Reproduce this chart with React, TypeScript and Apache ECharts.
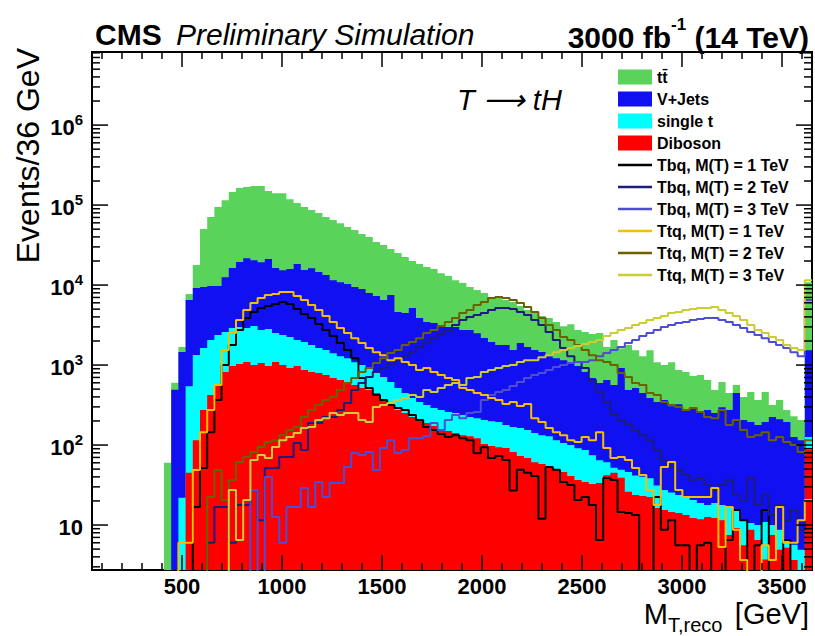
import React, { useEffect, useRef } from "react";
import * as echarts from "echarts";

const BIN_LOW = 50;
const BIN_WIDTH = 36;
const X_MIN = 50;
const X_MAX = 3650;
const Y_MIN = 2.74;
const Y_MAX = 8.2e6;

const xLabelValues = [500, 1000, 1500, 2000, 2500, 3000, 3500];
const yLabelValues = [10, 100, 1000, 10000, 100000, 1000000];

// backgrounds (events per 36 GeV bin, bins from 50 GeV)
const ttbar = [
  0, 0, 0, 0, 0, 0, 0, 0, 0, 0,
  60, 110, 230, 1230, 8600, 40700, 61100, 84700, 102400, 129100,
  143600, 146300, 152500, 153600, 128600, 124500, 125400, 102400, 87600, 79000,
  70300, 64900, 57500, 53400, 48600, 42800, 39300, 34500, 31900, 27200,
  25100, 20700, 20500, 17900, 14800, 14400, 13400, 12500, 10900, 9950,
  8520, 7850, 6700, 6150, 5770, 5140, 5090, 4710, 4590, 3580,
  3190, 3060, 2650, 2580, 2230, 1920, 2160, 1770, 1770, 1750,
  1920, 1030, 1490, 710, 1290, 1020, 845, 1150, 741, 635,
  779, 541, 544, 439, 491, 375, 236, 315, 173, 115,
  193, 266, 187, 266, 92, 154, 80, 104, 90, 9320,
];
const vjets = [
  0, 0, 0, 0, 0, 0, 0, 0, 0, 0,
  0, 490, 1430, 5940, 7840, 7810, 7670, 7350, 9970, 13400,
  16400, 18800, 17400, 16600, 18300, 13800, 13000, 13600, 16300, 13500,
  14500, 12900, 11800, 10100, 9570, 9070, 8350, 7910, 7020, 6470,
  5780, 6890, 4080, 4020, 4770, 3530, 3130, 3060, 2890, 2730,
  2730, 2500, 2520, 2290, 1970, 1740, 1590, 1600, 1370, 1720,
  1530, 1400, 1320, 1160, 1100, 1040, 986, 880, 731, 612,
  530, 588, 510, 868, 441, 474, 407, 348, 313, 338,
  281, 301, 251, 270, 240, 256, 232, 280, 257, 432,
  194, 183, 168, 183, 214, 202, 187, 120, 110, 1410,
];
const singleT = [
  0, 0, 0, 0, 0, 0, 0, 0, 0, 0,
  0, 0, 22, 500, 1220, 1360, 1630, 1810, 1770, 1930,
  1960, 1810, 2070, 1680, 1850, 1420, 1370, 1320, 1080, 1070,
  962, 837, 790, 721, 643, 605, 524, 484, 430, 371,
  343, 297, 242, 196, 163, 140, 128, 117, 116, 109,
  110, 104, 95, 95, 102, 102, 100, 86, 86, 90,
  85, 80, 75, 77, 66, 60, 59, 55, 52, 42,
  31, 19, 7, 10, 20, 18, 17, 16, 15, 12,
  11, 9.6, 9.7, 8.3, 7.1, 5.2, 6.7, 6.3, 9.3, 6.2,
  5.9, 1.9, 3.5, 7.2, 2.5, 3.8, 1.3, 2.0, 4.9, 39,
];
const diboson = [
  0, 0, 0, 0, 0, 0, 0, 0, 0, 0,
  0, 0, 0, 45, 115, 274, 422, 562, 818, 972,
  1030, 1090, 1000, 1060, 972, 1090, 1000, 917, 972, 866,
  818, 794, 750, 687, 649, 613, 562, 516, 487, 447,
  365, 316, 274, 251, 224, 205, 188, 173, 158, 150,
  141, 133, 129, 122, 103, 97, 94, 92, 82, 73,
  69, 61, 58, 52, 49, 46, 41, 36.5, 34.5, 32.5,
  33.5, 42, 45, 39, 26, 23.7, 23, 22.4, 16.3, 15.4,
  14.5, 14.1, 13.3, 12.2, 11.8, 12.6, 12.2, 11.5, 7.5, 9.2,
  5.6, 8.7, 6.5, 3.7, 7.5, 4.9, 5.2, 3.65, 0, 87,
];

// signals
const tbq1 = [
  0, 0, 0, 0, 0, 0, 0, 0, 0, 0,
  0, 0, 0, 0, 16.8, 51.6, 145, 365, 1000, 1780,
  2740, 3870, 4600, 5160, 5460, 5780, 6130, 5780, 5010, 4340,
  3870, 3250, 2740, 2300, 1890, 1540, 1220, 687, 516, 422,
  365, 316, 290, 274, 237, 205, 168, 154, 137, 126,
  133, 122, 115, 79, 94, 69, 73, 65, 27, 49,
  45, 41, 12, 53, 49, 34.5, 31.6, 20.5, 22.4, 17.8,
  6.5, 38.7, 36.5, 14.5, 14.1, 13.3, 0, 0, 22.4, 8.7,
  11.5, 5.6, 5.6, 0, 5.6, 6.0, 0, 0, 6.5, 15.4,
  11.5, 0, 5.6, 15.4, 0, 0, 6.5, 0, 0, 0,
];
const tbq2 = [
  0, 0, 0, 0, 0, 0, 0, 0, 0, 0,
  0, 0, 0, 0, 0, 0, 6.0, 16.8, 16.8, 6.0,
  17.8, 17.8, 27.4, 11.5, 51.6, 51.6, 70.8, 70.8, 106, 86.6,
  188, 188, 224, 224, 274, 335, 487, 595, 708, 818,
  917, 1030, 1150, 1290, 1450, 1680, 1890, 2170, 2440, 2740,
  3160, 3650, 3990, 4220, 4470, 4870, 5160, 5160, 5010, 4600,
  4220, 3650, 3160, 2590, 2050, 1630, 1290, 1090, 917, 649,
  460, 345, 244, 205, 183, 154, 133, 115, 86.6, 64.9,
  54.6, 48.7, 42.2, 36.5, 38.7, 31.6, 27.4, 31.6, 36.5, 23.7,
  20.5, 38.7, 17.8, 23.7, 13.3, 17.8, 11.5, 15.4, 8.7, 20.5,
];
const tbq3 = [
  0, 0, 0, 0, 0, 0, 0, 0, 0, 0,
  0, 0, 0, 0, 0, 0, 0, 0, 0, 0,
  0, 0, 27.4, 0, 39.8, 12.6, 6.0, 16.8, 16.8, 29,
  16.8, 34.5, 22.4, 33.5, 33.5, 53, 79.4, 75, 81.8, 48.7,
  91.7, 115, 79.4, 86.6, 122, 122, 129, 188, 154, 205,
  237, 217, 251, 259, 365, 422, 460, 487, 546, 613,
  687, 750, 794, 866, 944, 1000, 1060, 1090, 1090, 1150,
  1290, 1410, 1540, 1680, 1890, 2050, 2300, 2510, 2740, 2980,
  3160, 3350, 3450, 3650, 3760, 3870, 3870, 3650, 3450, 3160,
  2900, 2590, 2370, 2170, 1940, 1780, 1630, 1450, 1290, 6490,
];
const ttq1 = [
  0, 0, 0, 0, 0, 0, 0, 0, 0, 0,
  0, 0, 6.0, 6.0, 48.7, 145, 274, 562, 1540, 2510,
  3650, 4870, 5950, 6870, 7500, 7720, 8180, 8180, 7290, 6490,
  5620, 4870, 4100, 3450, 2900, 2510, 2170, 1890, 1630, 1450,
  1330, 1150, 1220, 1090, 1000, 866, 917, 818, 750, 687,
  649, 516, 487, 447, 422, 387, 365, 325, 345, 307,
  325, 217, 194, 163, 145, 133, 115, 109, 126, 115,
  145, 91.7, 68.7, 70.8, 64.9, 51.6, 42.2, 27.4, 17.8, 53,
  61.3, 27.4, 22.4, 22.4, 22.4, 22.4, 29, 5.3, 16.8, 8.7,
  3.65, 0, 0, 5.6, 3.65, 16.8, 6.0, 6.0, 11.5, 20.5,
];
const ttq2 = [
  0, 0, 0, 0, 0, 0, 0, 0, 0, 0,
  0, 0, 0, 0, 0, 0, 22.4, 48.7, 20.5, 36.5,
  61.3, 70.8, 81.8, 94.4, 109, 115, 133, 154, 168, 224,
  274, 316, 365, 398, 487, 595, 687, 818, 917, 1060,
  1220, 1410, 1540, 1780, 1940, 2170, 2510, 2740, 3070, 3450,
  3870, 4470, 4870, 5620, 6130, 6870, 7080, 6870, 6490, 5950,
  5300, 4600, 3870, 3160, 2740, 2240, 2050, 1780, 1540, 1330,
  1150, 1090, 1000, 794, 708, 595, 562, 447, 422, 345,
  316, 298, 274, 290, 259, 224, 217, 274, 178, 205,
  154, 126, 133, 145, 115, 126, 109, 100, 82, 115,
];
const ttq3 = [
  0, 0, 0, 0, 0, 0, 0, 0, 0, 0,
  0, 0, 0, 0, 0, 0, 0, 0, 0, 27.4,
  6.5, 20.5, 64.9, 75, 68.7, 94.4, 115, 126, 141, 163,
  168, 205, 217, 251, 237, 251, 251, 205, 194, 298,
  316, 335, 365, 387, 422, 398, 487, 460, 516, 562,
  595, 562, 687, 708, 818, 866, 917, 972, 1000, 1090,
  1150, 1150, 1250, 1330, 1450, 1540, 1630, 1730, 1830, 1940,
  2050, 2300, 2510, 2740, 2900, 3160, 3350, 3650, 3870, 4100,
  4470, 4600, 4870, 5010, 5160, 5160, 5300, 4870, 4470, 4100,
  3650, 3160, 2740, 2510, 2240, 2050, 1780, 1630, 1540, 11500,
];

const FONT = "'Liberation Sans', Arial, Helvetica, sans-serif";
const FLOOR = 0.01;
const LINE_ICON = "path://M0,0L34,0L34,2.6L0,2.6Z";

function histPoints(values: number[]): [number, number][] {
  const pts: [number, number][] = [];
  values.forEach((v, i) => pts.push([BIN_LOW + i * BIN_WIDTH, v > 0 ? v : FLOOR]));
  const last = values[values.length - 1];
  pts.push([BIN_LOW + values.length * BIN_WIDTH, last > 0 ? last : FLOOR]);
  return pts;
}

function sumArrays(...arrs: number[][]): number[] {
  return arrs[0].map((_, i) => arrs.reduce((s, a) => s + a[i], 0));
}

const fills = [
  { name: "tt\u0304", color: "#59d35a", values: sumArrays(ttbar, vjets, singleT, diboson) },
  { name: "V+Jets", color: "#1010f0", values: sumArrays(vjets, singleT, diboson) },
  { name: "single t", color: "#00ffff", values: sumArrays(singleT, diboson) },
  { name: "Diboson", color: "#ff0000", values: diboson },
];

const signals = [
  { name: "Tbq, M(T) = 1 TeV", color: "#000000", values: tbq1 },
  { name: "Tbq, M(T) = 2 TeV", color: "#1c1c7a", values: tbq2 },
  { name: "Tbq, M(T) = 3 TeV", color: "#4d4dd6", values: tbq3 },
  { name: "Ttq, M(T) = 1 TeV", color: "#f7be00", values: ttq1 },
  { name: "Ttq, M(T) = 2 TeV", color: "#6b6100", values: ttq2 },
  { name: "Ttq, M(T) = 3 TeV", color: "#cccc33", values: ttq3 },
];

export default function App() {
  const ref = useRef<HTMLDivElement>(null);

  useEffect(() => {
    document.body.style.margin = "0";
    if (!ref.current) return;
    const chart = echarts.init(ref.current, undefined, { renderer: "svg" });

    const xMinor: number[] = [];
    for (let v = 100; v <= 3600; v += 100) if (v % 500 !== 0) xMinor.push(v);
    const yMinor: number[] = [];
    for (let e = 0; e <= 6; e++)
      for (let m = 2; m <= 9; m++) {
        const v = m * Math.pow(10, e);
        if (v > Y_MIN && v < Y_MAX) yMinor.push(v);
      }

    const series: any[] = [];
    fills.forEach((f) => {
      series.push({
        name: f.name,
        type: "line",
        step: "end",
        data: histPoints(f.values),
        symbol: "none",
        color: f.color,
        lineStyle: { width: 0, color: f.color },
        areaStyle: { color: f.color, opacity: 1, origin: "start" },
        silent: true,
      });
    });
    signals.forEach((s) => {
      series.push({
        name: s.name,
        type: "line",
        step: "end",
        data: histPoints(s.values),
        symbol: "none",
        color: s.color,
        lineStyle: { width: 2, color: s.color },
        silent: true,
      });
    });
    series.push({
      type: "custom",
      data: [[X_MIN, Y_MIN]],
      silent: true,
      z: 20,
      clip: false,
      renderItem: (params: any, api: any) => {
        const cs = params.coordSys;
        const left = cs.x;
        const right = cs.x + cs.width;
        const top = cs.y;
        const bottom = cs.y + cs.height;
        const children: any[] = [];
        const add = (x1: number, y1: number, x2: number, y2: number) =>
          children.push({
            type: "line",
            shape: { x1, y1, x2, y2 },
            style: { stroke: "#000", lineWidth: 1.5 },
          });
        xLabelValues.forEach((v) => {
          const x = api.coord([v, Y_MIN])[0];
          add(x, bottom, x, bottom - 15);
          add(x, top, x, top + 15);
        });
        xMinor.forEach((v) => {
          const x = api.coord([v, Y_MIN])[0];
          add(x, bottom, x, bottom - 7);
          add(x, top, x, top + 7);
        });
        yLabelValues.forEach((v) => {
          const y = api.coord([X_MIN, v])[1];
          add(left, y, left + 16, y);
          add(right, y, right - 16, y);
        });
        yMinor.forEach((v) => {
          const y = api.coord([X_MIN, v])[1];
          add(left, y, left + 8, y);
          add(right, y, right - 8, y);
        });
        return { type: "group", children };
      },
    });

    const option: any = {
      animation: false,
      backgroundColor: "#fff",
      grid: {
        left: 92,
        top: 52,
        width: 720,
        height: 518,
        show: true,
        borderColor: "#000",
        borderWidth: 2,
        backgroundColor: "transparent",
      },
      xAxis: {
        type: "value",
        min: X_MIN,
        max: X_MAX,
        axisLine: { show: false },
        axisTick: { show: false },
        splitLine: { show: false },
        axisLabel: {
          customValues: xLabelValues,
          margin: 5,
          formatter: (v: number) => String(v),
          fontFamily: FONT,
          fontWeight: "bold",
          fontSize: 22,
          color: "#000",
        },
      },
      yAxis: {
        type: "log",
        min: Y_MIN,
        max: Y_MAX,
        axisLine: { show: false },
        axisTick: { show: false },
        splitLine: { show: false },
        axisLabel: {
          customValues: yLabelValues,
          margin: 9,
          formatter: (v: number) => {
            const e = Math.round(Math.log10(v));
            if (Math.abs(Math.log10(v) - e) > 1e-6) return "";
            return e === 1 ? "{b|10}" : `{b|10}{s|${e}}`;
          },
          rich: {
            b: {
              fontFamily: FONT,
              fontWeight: "bold",
              fontSize: 22,
              lineHeight: 26,
              verticalAlign: "bottom",
              color: "#000",
            },
            s: {
              fontFamily: FONT,
              fontWeight: "bold",
              fontSize: 15,
              lineHeight: 14,
              verticalAlign: "top",
              color: "#000",
            },
          },
        },
      },
      legend: {
        orient: "vertical",
        left: 618,
        top: 69,
        padding: 0,
        itemWidth: 34,
        itemHeight: 15,
        itemGap: 6,
        symbolKeepAspect: true,
        selectedMode: false,
        textStyle: {
          fontFamily: FONT,
          fontWeight: "bold",
          fontSize: 16,
          color: "#000",
        },
        data: [
          ...fills.map((f) => ({ name: f.name, icon: "rect", itemStyle: { color: f.color } })),
          ...signals.map((s) => ({ name: s.name, icon: LINE_ICON, itemStyle: { color: s.color } })),
        ],
      },
      graphic: [
        {
          type: "text",
          x: 95,
          y: 34,
          style: {
            text: "CMS",
            fontFamily: FONT,
            fontWeight: "bold",
            fontSize: 30,
            fill: "#000",
            align: "left",
            verticalAlign: "middle",
          },
        },
        {
          type: "text",
          x: 176,
          y: 34,
          style: {
            text: "Preliminary Simulation",
            fontFamily: FONT,
            fontStyle: "italic",
            fontSize: 30,
            fill: "#000",
            align: "left",
            verticalAlign: "middle",
          },
        },
        {
          type: "text",
          x: 809,
          y: 16,
          style: {
            text: "{a|3000 fb}{s|-1}{a| (14 TeV)}",
            align: "right",
            verticalAlign: "top",
            rich: {
              a: {
                fontFamily: FONT,
                fontWeight: "bold",
                fontSize: 30,
                lineHeight: 36,
                verticalAlign: "bottom",
                fill: "#000",
              },
              s: {
                fontFamily: FONT,
                fontWeight: "bold",
                fontSize: 17,
                lineHeight: 20,
                verticalAlign: "top",
                fill: "#000",
              },
            },
          },
        },
        {
          type: "text",
          x: 457,
          y: 100,
          style: {
            text: "T \u27F6 tH",
            fontFamily: FONT,
            fontStyle: "italic",
            fontSize: 29,
            fill: "#000",
            align: "left",
            verticalAlign: "middle",
          },
        },
        {
          type: "text",
          x: 668,
          y: 614,
          style: {
            text: "M",
            fontFamily: FONT,
            fontSize: 29,
            fill: "#000",
            align: "right",
            verticalAlign: "middle",
          },
        },
        {
          type: "text",
          x: 668,
          y: 625,
          style: {
            text: "T,reco",
            fontFamily: FONT,
            fontSize: 20,
            fill: "#000",
            align: "left",
            verticalAlign: "middle",
          },
        },
        {
          type: "text",
          x: 809,
          y: 614,
          style: {
            text: "[GeV]",
            fontFamily: FONT,
            fontSize: 29,
            fill: "#000",
            align: "right",
            verticalAlign: "middle",
          },
        },
        {
          type: "text",
          x: 28,
          y: 48,
          rotation: Math.PI / 2,
          style: {
            text: "Events/36 GeV",
            fontFamily: FONT,
            fontSize: 32,
            fill: "#000",
            align: "right",
            verticalAlign: "middle",
          },
        },
      ],
      series,
    };

    chart.setOption(option);
    return () => chart.dispose();
  }, []);

  return (
    <div
      ref={ref}
      style={{ position: "fixed", left: 0, top: 0, width: 815, height: 636, background: "#fff" }}
    />
  );
}
